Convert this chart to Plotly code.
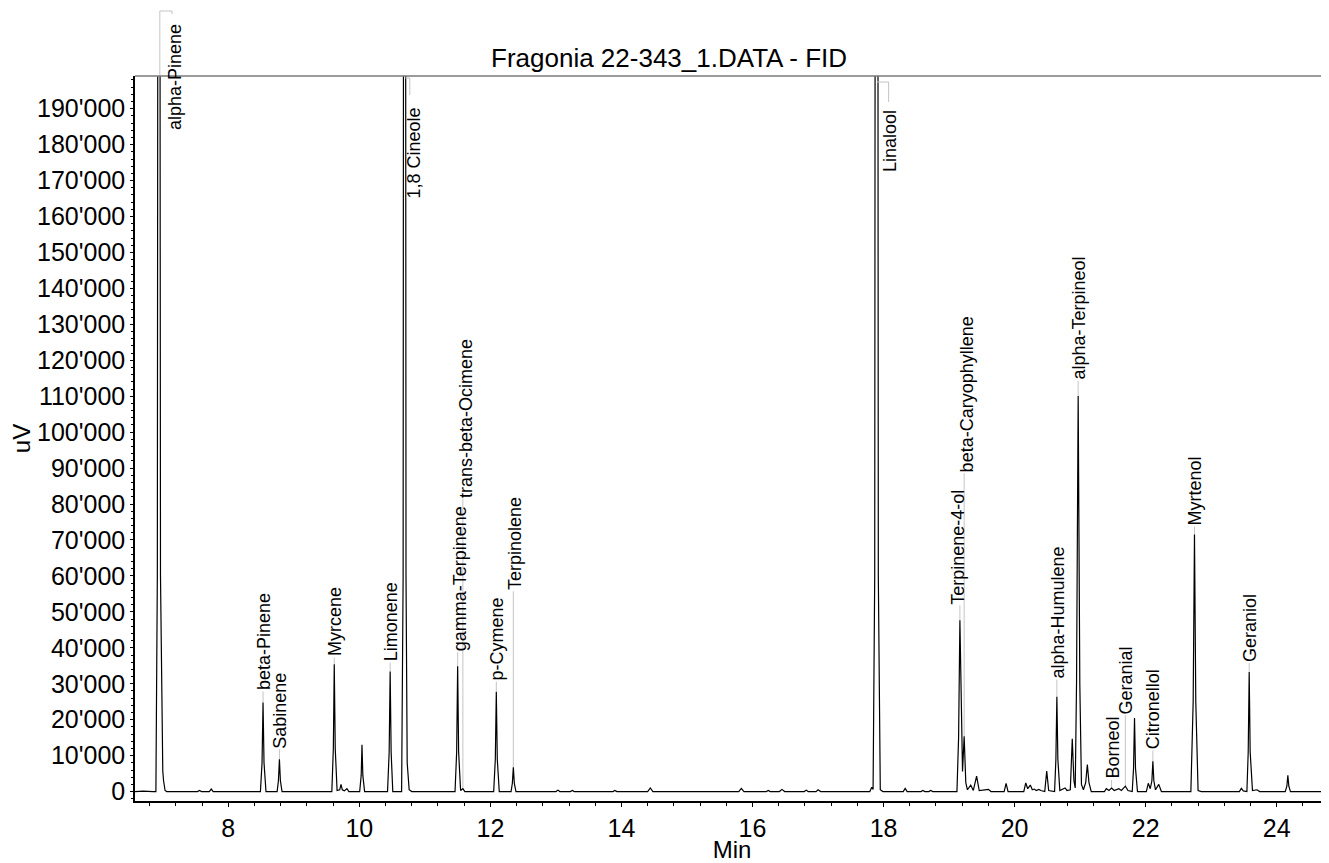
import plotly.graph_objects as go

# ---- chromatogram trace ----
time_min = [
    6.576, 6.70, 6.85, 6.895, 6.917, 6.940, 6.965, 6.990, 7.000, 7.012, 7.035, 7.06,
    7.53, 7.56, 7.59, 7.71, 7.74, 7.77,
    8.49, 8.515, 8.530, 8.545, 8.575,
    8.745, 8.765, 8.780, 8.795, 8.82,
    9.58, 9.603, 9.617, 9.632, 9.66, 9.70, 9.72, 9.74, 9.77, 9.81, 9.84,
    10.005, 10.028, 10.040, 10.053, 10.08,
    10.43, 10.455, 10.470, 10.485, 10.51,
    10.645, 10.668, 10.690, 10.712, 10.730, 10.76, 10.80,
    11.46, 11.485, 11.500, 11.515, 11.545, 11.58, 11.61,
    12.05, 12.075, 12.090, 12.105, 12.135,
    12.315, 12.335, 12.350, 12.365, 12.39,
    13.00, 13.03, 13.06, 13.22, 13.25, 13.28, 13.87, 13.90, 13.93,
    14.40, 14.44, 14.48, 15.79, 15.83, 15.87, 16.21, 16.24, 16.27,
    16.41, 16.45, 16.49, 16.79, 16.82, 16.85, 16.97, 17.00, 17.04,
    17.79, 17.82, 17.84, 17.865, 17.894, 17.92, 17.95, 17.99,
    18.30, 18.33, 18.36, 18.57, 18.60, 18.63, 18.69, 18.72, 18.75,
    19.12, 19.145, 19.165, 19.19, 19.205, 19.23, 19.255, 19.28, 19.33, 19.37,
    19.42, 19.46, 19.60, 19.64, 19.84, 19.87, 19.90,
    20.14, 20.17, 20.20, 20.24, 20.27, 20.30, 20.33, 20.37, 20.40, 20.46, 20.49, 20.52,
    20.61, 20.630, 20.645, 20.660, 20.69, 20.77, 20.80, 20.85, 20.88, 20.905, 20.925,
    20.945, 20.970, 20.995, 21.02, 21.05, 21.085, 21.11, 21.135, 21.17,
    21.37, 21.40, 21.44, 21.48, 21.52, 21.59, 21.63, 21.69, 21.73,
    21.795, 21.815, 21.830, 21.845, 21.875,
    22.01, 22.04, 22.07, 22.095, 22.110, 22.125, 22.15, 22.20, 22.24,
    22.69, 22.725, 22.745, 22.765, 22.80, 22.85,
    23.43, 23.46, 23.49, 23.545, 23.565, 23.580, 23.595, 23.63, 23.70, 23.74,
    24.13, 24.155, 24.17, 24.185, 24.21, 24.798,
]
signal_uv = [
    0, 100, 0, 0, 60000, 600000, 60000, 7000, 5700, 3000, 300, 0,
    0, 300, 0, 0, 700, 0,
    0, 8000, 24800, 8000, 0,
    0, 3000, 8980, 3000, 0,
    0, 12000, 35400, 12000, 300, 500, 2000, 500, 200, 800, 0,
    0, 4500, 13000, 4500, 0,
    0, 11000, 33400, 11000, 0,
    0, 60000, 700000, 60000, 8000, 500, 0,
    0, 11000, 34900, 11000, 300, 800, 0,
    0, 9000, 27800, 9000, 0,
    0, 2300, 6770, 2300, 0,
    0, 400, 0, 0, 300, 0, 0, 300, 0,
    0, 1000, 0, 0, 900, 0, 0, 300, 0,
    0, 600, 0, 0, 400, 0, 0, 500, 0,
    0, 1200, 600, 60000, 800000, 60000, 500, 0,
    0, 900, 0, 0, 300, 0, 0, 300, 0,
    0, 15000, 47650, 15000, 5600, 15400, 2500, 500, 1800, 300,
    4300, 300, 600, 0, 0, 2300, 0,
    0, 2400, 800, 1800, 500, 700, 300, 600, 300, 0, 5700, 300,
    0, 9000, 26400, 9000, 300, 1000, 300, 500, 14700, 3000, 1000,
    30000, 110080, 30000, 2000, 500, 2500, 7500, 2500, 0,
    0, 800, 300, 1000, 300, 800, 300, 1500, 300,
    0, 6500, 20500, 6500, 0,
    0, 2300, 800, 3000, 8400, 3000, 500, 2000, 0,
    0, 25000, 71500, 25000, 300, 0,
    0, 900, 200, 0, 11000, 33300, 11000, 300, 500, 0,
    0, 1500, 4560, 1500, 0, 0,
]

# ---- labelled peaks (name, retention time, apex height) ----
peak_names = ["beta-Pinene", "Sabinene", "Myrcene", "Limonene", "gamma-Terpinene",
              "trans-beta-Ocimene", "p-Cymene", "Terpinolene", "Terpinene-4-ol",
              "beta-Caryophyllene", "alpha-Humulene", "alpha-Terpineol", "Borneol",
              "Geranial", "Citronellol", "Myrtenol", "Geraniol"]
peak_times = [8.53, 8.78, 9.617, 10.47, 11.50, 11.58, 12.09, 12.35, 19.165,
              19.23, 20.645, 20.97, 21.48, 21.69, 22.11, 22.745, 23.58]
peak_heights = [24800, 8980, 35400, 33400, 34900, 800, 27800, 6770, 47650,
                15400, 26400, 110080, 1000, 1500, 8400, 71500, 33300]

# off-scale peaks, labelled from the top of the plot
top_names = ["alpha-Pinene", "1,8 Cineole", "Linalool"]
top_times = [6.94, 10.69, 17.894]

x_ticks = [8, 10, 12, 14, 16, 18, 20, 22, 24]

# ---- layout helpers (pixels) ----
label_lift_px = [11, 10, 7, 9, 14, 290, 10, 176, 15, 263, 17, 15, 8, 71, 11, 8, 9]
label_dx_px = [1, 1, 1, 1, 2, 3, 1, 1, -2, 3, 1, 1, 1, 1, 1, 1, 1]
top_label_x = [7.187, 10.82, 18.10]
top_label_shift_px = [54, -30, -32]
top_bracket_x = [7.141, 10.77, 18.077]
top_bracket_y_px = [(65, 62), (-2, -19), (-6, -26)]
top_bracket_x0 = [6.955, 10.70, 17.90]

FONT = "Liberation Sans, Arial, sans-serif"
LEADER = "#c4c4c4"

# the page body adds an 8 px offset, so the figure is 8 px smaller than the window
W, H = 1321, 855

fig = go.Figure()
fig.add_trace(go.Scatter(x=time_min, y=signal_uv, mode="lines",
                         line=dict(color="black", width=1.2), hoverinfo="skip"))

shapes = []
annotations = []
for name, t, h, lift, dx in zip(peak_names, peak_times, peak_heights, label_lift_px, label_dx_px):
    shapes.append(dict(type="line", xref="x", yref="y", ysizemode="pixel", yanchor=h,
                       x0=t, x1=t, y0=0, y1=lift, layer="below",
                       line=dict(color=LEADER, width=1)))
    annotations.append(dict(x=t, y=h, xref="x", yref="y", text=name, showarrow=False,
                            textangle=-90, xanchor="center", yanchor="bottom",
                            yshift=lift - 1, xshift=dx,
                            font=dict(family=FONT, size=18, color="black")))

for name, t, lx, sh, bx, (by0, by1), bx0 in zip(top_names, top_times, top_label_x,
                                                top_label_shift_px, top_bracket_x,
                                                top_bracket_y_px, top_bracket_x0):
    if by0 > 0:
        path = f"M{bx0},0 L{bx0},{by0} L{bx},{by0} L{bx},{by1}"
    else:
        path = f"M{bx0},{by0} L{bx},{by0} L{bx},{by1}"
    shapes.append(dict(type="path", xref="x", yref="paper", ysizemode="pixel", yanchor=1,
                       path=path, line=dict(color=LEADER, width=1)))
    annotations.append(dict(x=lx, y=1, xref="x", yref="paper", text=name, showarrow=False,
                            textangle=-90, xanchor="center", yanchor="top", yshift=sh,
                            font=dict(family=FONT, size=18, color="black")))

# grey top border of the plot area
shapes.append(dict(type="line", xref="paper", yref="paper", x0=0, x1=1, y0=1, y1=1,
                   line=dict(color="#7a7a7a", width=1.5)))

fig.update_layout(
    width=W, height=H,
    margin=dict(l=127, r=0, t=68, b=57),
    paper_bgcolor="white", plot_bgcolor="white",
    separators=".'",
    showlegend=False,
    font=dict(family=FONT, color="black"),
    title=dict(text="Fragonia 22-343_1.DATA - FID", x=0.5004, xref="container",
               xanchor="center", y=1 - 50 / H, yref="container", yanchor="middle",
               font=dict(family=FONT, size=26, color="black")),
    shapes=shapes,
    annotations=annotations,
)
fig.update_xaxes(range=[6.576, 24.798], tickvals=x_ticks, showgrid=False, zeroline=False,
                 showline=True, linecolor="black", linewidth=2,
                 ticks="outside", ticklen=4, tickcolor="black",
                 minor=dict(dtick=0.4, tick0=0, ticks="outside", ticklen=3, tickcolor="black"),
                 tickfont=dict(family=FONT, size=25, color="black"),
                 title=dict(text="Min", font=dict(family=FONT, size=24, color="black"), standoff=4))
fig.update_yaxes(range=[-2624, 199100], dtick=10000, tick0=0, tickformat=",d",
                 showgrid=False, zeroline=False,
                 showline=True, linecolor="black", linewidth=1.5,
                 ticks="outside", ticklen=3, tickcolor="black",
                 minor=dict(dtick=2000, ticks="outside", ticklen=2, tickcolor="black"),
                 tickfont=dict(family=FONT, size=25, color="black"),
                 title=dict(text="uV", font=dict(family=FONT, size=24, color="black"), standoff=3))

fig.write_html("out.html")
